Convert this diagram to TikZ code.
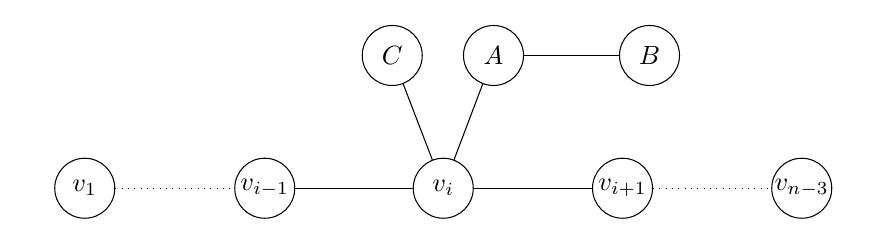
\documentclass[tikz,border=0pt]{standalone}

\begin{document}
\begin{tikzpicture}[vertex/.style={draw,circle,minimum size=0.8cm,inner sep=0pt}]
            \useasboundingbox (-1.13,-0.65) rectangle (10.71,2.51);

            \node[vertex] (V1) at (0,0) {$v_1$};
            \node[vertex] (Vm) at (2.4,0) {$v_{i-1}$};
            \node[vertex] (Vi) at (4.78,0) {$v_i$};
            \node[vertex] (Vp) at (7.17,0) {$v_{i+1}$};
            \node[vertex] (Vn) at (9.56,0) {$v_{n-3}$};

            \node[vertex] (C) at (4.1,1.77) {$C$};
            \node[vertex] (A) at (5.45,1.77) {$A$};
            \node[vertex] (B) at (7.53,1.77) {$B$};

            \draw[dotted] (V1)--(Vm);
            \draw (Vm)--(Vi)--(Vp);
            \draw[dotted] (Vp)--(Vn);
            \draw (C)--(Vi);
            \draw (A)--(Vi);
            \draw (A)--(B);
        \end{tikzpicture}
\end{document}
